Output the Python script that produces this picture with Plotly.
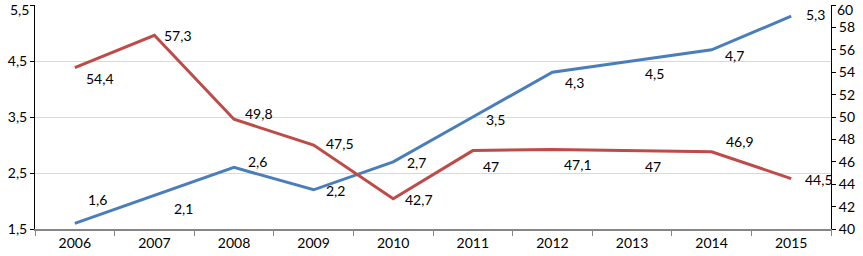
import plotly.graph_objects as go

years = ["2006", "2007", "2008", "2009", "2010", "2011", "2012", "2013", "2014", "2015"]
blue_values = [1.6, 2.1, 2.6, 2.2, 2.7, 3.5, 4.3, 4.5, 4.7, 5.3]
red_values = [54.4, 57.3, 49.8, 47.5, 42.7, 47, 47.1, 47, 46.9, 44.5]
left_ticks = [1.5, 2.5, 3.5, 4.5, 5.5]
right_ticks = [40, 42, 44, 46, 48, 50, 52, 54, 56, 58, 60]

# label offsets in pixels (dx, dy up)
blue_offsets = [(23, 24), (29, -13), (23, 6), (22, -1), (23, -1), (23, -2), (22, -10), (22, -12), (23, -6), (24, 2)]
red_offsets = [(25, -11), (24, 0), (25, 6), (26, 2), (26, -1), (18, -16), (26, -15), (21, -16), (28, 10), (28, -1)]

BLUE = "#4A7EBB"
RED = "#BE4B48"
FONT = "Lato"
FS = 14


def fmt(v):
    return f"{v:g}".replace(".", ",")


fig = go.Figure()
fig.add_trace(go.Scatter(x=years, y=blue_values, mode="lines", line=dict(color=BLUE, width=3),
                         yaxis="y", showlegend=False, hoverinfo="skip"))
fig.add_trace(go.Scatter(x=years, y=red_values, mode="lines", line=dict(color=RED, width=3),
                         yaxis="y2", showlegend=False, hoverinfo="skip"))

for i, v in enumerate(blue_values):
    dx, dy = blue_offsets[i]
    fig.add_annotation(x=i, y=v, xref="x", yref="y", text=fmt(v), showarrow=False,
                       xshift=dx, yshift=dy, xanchor="center", yanchor="middle",
                       font=dict(family=FONT, size=FS, color="#000000"))
for i, v in enumerate(red_values):
    dx, dy = red_offsets[i]
    fig.add_annotation(x=i, y=v, xref="x", yref="y2", text=fmt(v), showarrow=False,
                       xshift=dx, yshift=dy, xanchor="center", yanchor="middle",
                       font=dict(family=FONT, size=FS, color="#000000"))

# topmost tick labels (plotly hides tick labels that overflow the top edge)
fig.add_annotation(x=0, y=left_ticks[-1], xref="paper", yref="y", text=fmt(left_ticks[-1]),
                   showarrow=False, xanchor="right", yanchor="top", xshift=-5, yshift=5,
                   borderpad=0, font=dict(family=FONT, size=FS, color="#000000"))
fig.add_annotation(x=1, y=right_ticks[-1], xref="paper", yref="y2", text=fmt(right_ticks[-1]),
                   showarrow=False, xanchor="left", yanchor="top", xshift=5, yshift=5,
                   borderpad=0, font=dict(family=FONT, size=FS, color="#000000"))

fig.update_layout(
    width=863, height=256,
    margin=dict(l=35, r=32, t=5, b=27),
    paper_bgcolor="white", plot_bgcolor="white",
    font=dict(family=FONT, size=FS, color="#000000"),
    xaxis=dict(type="category", range=[-0.5, 9.5], showgrid=False, showline=True,
               linecolor="#868686", linewidth=2, ticks="outside", tickson="boundaries",
               ticklen=5, tickcolor="#868686", tickwidth=1, zeroline=False,
               tickfont=dict(family=FONT, size=FS)),
    yaxis=dict(range=[1.5, 5.5], tickvals=left_ticks, ticktext=[fmt(t) for t in left_ticks],
               showgrid=True, gridcolor="#D9D9D9", gridwidth=1, showline=True,
               linecolor="#000000", linewidth=1, ticks="outside", ticklen=4,
               tickcolor="#000000", zeroline=False, tickfont=dict(family=FONT, size=FS)),
    yaxis2=dict(range=[40, 60], tickvals=right_ticks, ticktext=[fmt(t) for t in right_ticks],
                overlaying="y", side="right", showgrid=False, showline=True,
                linecolor="#000000", linewidth=1, ticks="outside", ticklen=4,
                tickcolor="#000000", zeroline=False, tickfont=dict(family=FONT, size=FS)),
)

fig.write_html("out.html", config={"displayModeBar": False},
               post_script="document.body.style.margin='0';")
